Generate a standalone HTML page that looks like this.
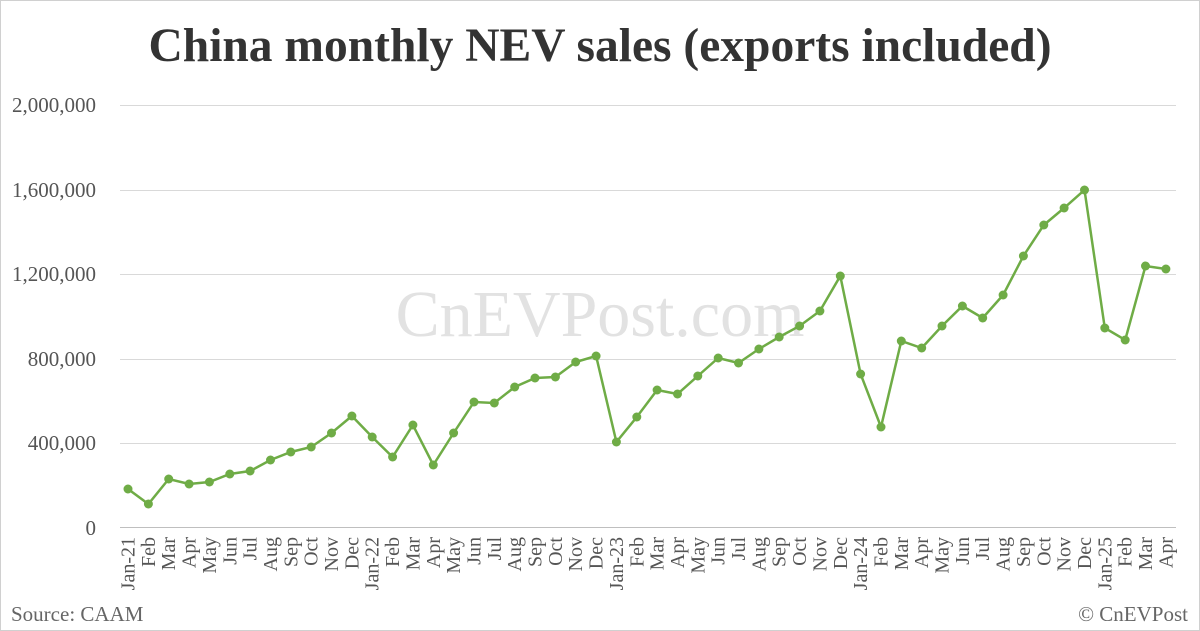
<!DOCTYPE html>
<html><head><meta charset="utf-8"><style>
html,body{margin:0;padding:0;background:#fff}
svg{display:block;font-family:"Liberation Serif",serif}
</style></head><body>
<svg width="1200" height="631" viewBox="0 0 1200 631">
<rect x="0.5" y="0.5" width="1199" height="630" fill="#fff" stroke="#d0d0d0"/>
<text x="600" y="61" text-anchor="middle" font-size="47.5" font-weight="bold" fill="#333">China monthly NEV sales (exports included)</text>
<g stroke="#d9d9d9" stroke-width="1">
<line x1="120" y1="105.5" x2="1176" y2="105.5"/>
<line x1="120" y1="190.5" x2="1176" y2="190.5"/>
<line x1="120" y1="274.5" x2="1176" y2="274.5"/>
<line x1="120" y1="359.5" x2="1176" y2="359.5"/>
<line x1="120" y1="443.5" x2="1176" y2="443.5"/>
</g>
<line x1="120" y1="527.5" x2="1176" y2="527.5" stroke="#bfbfbf"/>
<g font-size="21" fill="#555" text-anchor="end">
<text x="96" y="112">2,000,000</text>
<text x="96" y="197">1,600,000</text>
<text x="96" y="281">1,200,000</text>
<text x="96" y="366">800,000</text>
<text x="96" y="450">400,000</text>
<text x="96" y="535">0</text>
</g>
<text x="600" y="336" text-anchor="middle" font-size="66" fill="#e2e2e2">CnEVPost.com</text>
<polyline fill="none" stroke="#6fac46" stroke-width="2.5" points="128,489 148.4,504 168.7,479 189.1,484 209.4,482 229.8,474 250.1,471 270.5,460 290.8,452 311.2,447 331.5,433 351.9,416 372.2,437 392.6,457 412.9,425 433.3,465 453.6,433 474,402 494.3,403 514.7,387 535,378 555.4,377 575.7,362 596.1,356 616.4,442 636.8,417 657.1,390 677.5,394 697.8,376 718.2,358 738.5,363 758.9,349 779.2,337 799.6,326 819.9,311 840.3,276 860.6,374 881,427 901.3,341 921.7,348 942,326 962.4,306 982.7,318 1003.1,295 1023.4,256 1043.8,225 1064.1,208 1084.5,190 1104.8,328 1125.2,340 1145.5,266 1165.9,269"/>
<g fill="#6fac46">
<circle cx="128" cy="489" r="4.5"/><circle cx="148.4" cy="504" r="4.5"/><circle cx="168.7" cy="479" r="4.5"/><circle cx="189.1" cy="484" r="4.5"/><circle cx="209.4" cy="482" r="4.5"/><circle cx="229.8" cy="474" r="4.5"/><circle cx="250.1" cy="471" r="4.5"/><circle cx="270.5" cy="460" r="4.5"/><circle cx="290.8" cy="452" r="4.5"/><circle cx="311.2" cy="447" r="4.5"/><circle cx="331.5" cy="433" r="4.5"/><circle cx="351.9" cy="416" r="4.5"/><circle cx="372.2" cy="437" r="4.5"/><circle cx="392.6" cy="457" r="4.5"/><circle cx="412.9" cy="425" r="4.5"/><circle cx="433.3" cy="465" r="4.5"/><circle cx="453.6" cy="433" r="4.5"/><circle cx="474" cy="402" r="4.5"/><circle cx="494.3" cy="403" r="4.5"/><circle cx="514.7" cy="387" r="4.5"/><circle cx="535" cy="378" r="4.5"/><circle cx="555.4" cy="377" r="4.5"/><circle cx="575.7" cy="362" r="4.5"/><circle cx="596.1" cy="356" r="4.5"/><circle cx="616.4" cy="442" r="4.5"/><circle cx="636.8" cy="417" r="4.5"/><circle cx="657.1" cy="390" r="4.5"/><circle cx="677.5" cy="394" r="4.5"/><circle cx="697.8" cy="376" r="4.5"/><circle cx="718.2" cy="358" r="4.5"/><circle cx="738.5" cy="363" r="4.5"/><circle cx="758.9" cy="349" r="4.5"/><circle cx="779.2" cy="337" r="4.5"/><circle cx="799.6" cy="326" r="4.5"/><circle cx="819.9" cy="311" r="4.5"/><circle cx="840.3" cy="276" r="4.5"/><circle cx="860.6" cy="374" r="4.5"/><circle cx="881" cy="427" r="4.5"/><circle cx="901.3" cy="341" r="4.5"/><circle cx="921.7" cy="348" r="4.5"/><circle cx="942" cy="326" r="4.5"/><circle cx="962.4" cy="306" r="4.5"/><circle cx="982.7" cy="318" r="4.5"/><circle cx="1003.1" cy="295" r="4.5"/><circle cx="1023.4" cy="256" r="4.5"/><circle cx="1043.8" cy="225" r="4.5"/><circle cx="1064.1" cy="208" r="4.5"/><circle cx="1084.5" cy="190" r="4.5"/><circle cx="1104.8" cy="328" r="4.5"/><circle cx="1125.2" cy="340" r="4.5"/><circle cx="1145.5" cy="266" r="4.5"/><circle cx="1165.9" cy="269" r="4.5"/>
</g>
<g font-size="20" fill="#555" text-anchor="end">
<text transform="translate(134.5,537) rotate(-90)">Jan-21</text>
<text transform="translate(154.9,537) rotate(-90)">Feb</text>
<text transform="translate(175.2,537) rotate(-90)">Mar</text>
<text transform="translate(195.6,537) rotate(-90)">Apr</text>
<text transform="translate(215.9,537) rotate(-90)">May</text>
<text transform="translate(236.3,537) rotate(-90)">Jun</text>
<text transform="translate(256.6,537) rotate(-90)">Jul</text>
<text transform="translate(277,537) rotate(-90)">Aug</text>
<text transform="translate(297.3,537) rotate(-90)">Sep</text>
<text transform="translate(317.7,537) rotate(-90)">Oct</text>
<text transform="translate(338,537) rotate(-90)">Nov</text>
<text transform="translate(358.4,537) rotate(-90)">Dec</text>
<text transform="translate(378.7,537) rotate(-90)">Jan-22</text>
<text transform="translate(399.1,537) rotate(-90)">Feb</text>
<text transform="translate(419.4,537) rotate(-90)">Mar</text>
<text transform="translate(439.8,537) rotate(-90)">Apr</text>
<text transform="translate(460.1,537) rotate(-90)">May</text>
<text transform="translate(480.5,537) rotate(-90)">Jun</text>
<text transform="translate(500.8,537) rotate(-90)">Jul</text>
<text transform="translate(521.2,537) rotate(-90)">Aug</text>
<text transform="translate(541.5,537) rotate(-90)">Sep</text>
<text transform="translate(561.9,537) rotate(-90)">Oct</text>
<text transform="translate(582.2,537) rotate(-90)">Nov</text>
<text transform="translate(602.6,537) rotate(-90)">Dec</text>
<text transform="translate(622.9,537) rotate(-90)">Jan-23</text>
<text transform="translate(643.3,537) rotate(-90)">Feb</text>
<text transform="translate(663.6,537) rotate(-90)">Mar</text>
<text transform="translate(684,537) rotate(-90)">Apr</text>
<text transform="translate(704.3,537) rotate(-90)">May</text>
<text transform="translate(724.7,537) rotate(-90)">Jun</text>
<text transform="translate(745,537) rotate(-90)">Jul</text>
<text transform="translate(765.4,537) rotate(-90)">Aug</text>
<text transform="translate(785.7,537) rotate(-90)">Sep</text>
<text transform="translate(806.1,537) rotate(-90)">Oct</text>
<text transform="translate(826.4,537) rotate(-90)">Nov</text>
<text transform="translate(846.8,537) rotate(-90)">Dec</text>
<text transform="translate(867.1,537) rotate(-90)">Jan-24</text>
<text transform="translate(887.5,537) rotate(-90)">Feb</text>
<text transform="translate(907.8,537) rotate(-90)">Mar</text>
<text transform="translate(928.2,537) rotate(-90)">Apr</text>
<text transform="translate(948.5,537) rotate(-90)">May</text>
<text transform="translate(968.9,537) rotate(-90)">Jun</text>
<text transform="translate(989.2,537) rotate(-90)">Jul</text>
<text transform="translate(1009.6,537) rotate(-90)">Aug</text>
<text transform="translate(1029.9,537) rotate(-90)">Sep</text>
<text transform="translate(1050.3,537) rotate(-90)">Oct</text>
<text transform="translate(1070.6,537) rotate(-90)">Nov</text>
<text transform="translate(1091,537) rotate(-90)">Dec</text>
<text transform="translate(1111.3,537) rotate(-90)">Jan-25</text>
<text transform="translate(1131.7,537) rotate(-90)">Feb</text>
<text transform="translate(1152,537) rotate(-90)">Mar</text>
<text transform="translate(1172.4,537) rotate(-90)">Apr</text>
</g>
<text x="11" y="621" font-size="21" fill="#666">Source: CAAM</text>
<text x="1188" y="621" font-size="21" fill="#666" text-anchor="end">© CnEVPost</text>
</svg>
</body></html>
